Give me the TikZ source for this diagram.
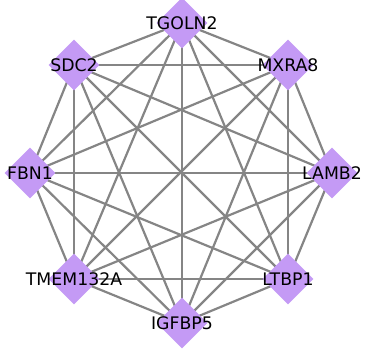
\documentclass[tikz,border=0pt]{standalone}
\usepackage{fontspec}
\setmainfont{DejaVu Sans}
\usetikzlibrary{shapes.geometric,backgrounds}
\definecolor{nodefill}{HTML}{C49AF5}
\definecolor{edgegray}{HTML}{858585}
\tikzset{
  gene/.style={diamond, aspect=1, fill=nodefill, draw=none, inner sep=0pt,
    minimum width=51pt, minimum height=51pt,
    label={[font=\fontsize{17.3}{19}\selectfont, text=black, inner sep=0pt]center:#1}},
  edge/.style={draw=edgegray, line width=2.2pt}
}
\begin{document}
\begin{tikzpicture}[x=1pt,y=-1pt]
\useasboundingbox (0,0) rectangle (366,356);
\node[gene=TGOLN2] (tg) at (182,23) {};
\node[gene=MXRA8] (mx) at (288,65) {};
\node[gene=LAMB2] (la) at (332,173) {};
\node[gene=LTBP1] (lt) at (288,279) {};
\node[gene=IGFBP5] (ig) at (182,323) {};
\node[gene=TMEM132A] (tm) at (74,279) {};
\node[gene=FBN1] (fb) at (30,173) {};
\node[gene=SDC2] (sd) at (74,65) {};
\begin{scope}[on background layer]
\foreach \a/\b in {tg/mx,tg/la,tg/lt,tg/ig,tg/tm,tg/fb,tg/sd,
  mx/la,mx/lt,mx/ig,mx/tm,mx/fb,mx/sd,
  la/lt,la/ig,la/tm,la/fb,la/sd,
  lt/ig,lt/tm,lt/fb,lt/sd,
  ig/tm,ig/fb,ig/sd,
  tm/fb,tm/sd,
  fb/sd}
  \draw[edge] (\a.center) -- (\b.center);
\end{scope}
\end{tikzpicture}
\end{document}
